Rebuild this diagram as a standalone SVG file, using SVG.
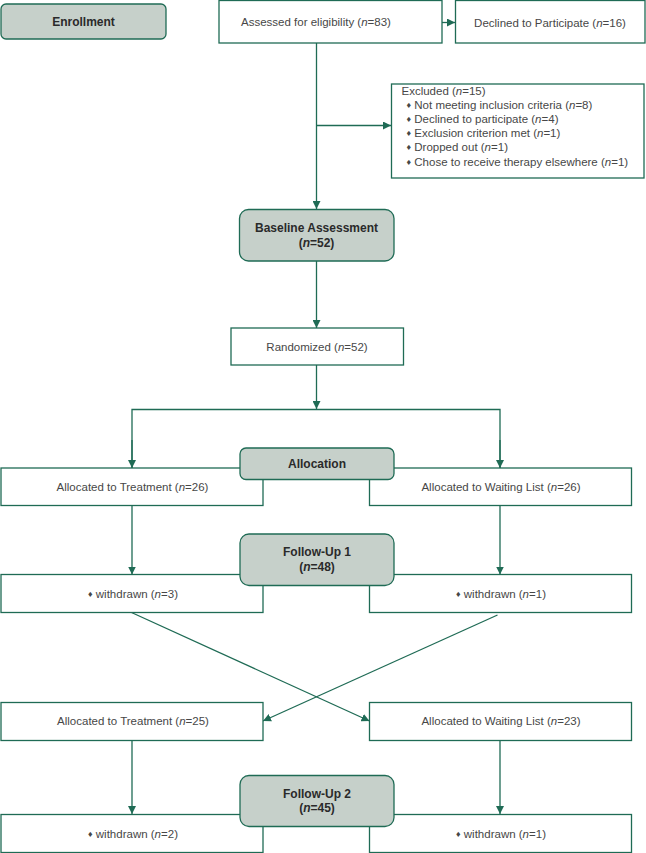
<svg xmlns="http://www.w3.org/2000/svg" width="646" height="853" viewBox="0 0 646 853">
<style>
.box{fill:#ffffff;stroke:#1f6b55;stroke-width:1.3}
.stage{fill:#c6d0ca;stroke:#1f6b55;stroke-width:1.3}
.t{font-family:"Liberation Sans",Arial,sans-serif;font-size:11.5px;fill:#474747;text-anchor:middle;dominant-baseline:central}
.tl{font-family:"Liberation Sans",Arial,sans-serif;font-size:11.5px;fill:#474747;dominant-baseline:central}
.b{font-family:"Liberation Sans",Arial,sans-serif;font-size:12px;font-weight:bold;fill:#2a2a2a;text-anchor:middle;dominant-baseline:central}
.i{font-style:italic}
.bul{font-size:9px}
.ln{fill:none;stroke:#1f6b55;stroke-width:1.3}
</style>
<defs>
<marker id="ah" viewBox="0 0 10 10" refX="10" refY="5" markerWidth="8" markerHeight="8" markerUnits="userSpaceOnUse" orient="auto">
<path d="M0,0 L10,5 L0,10 z" fill="#1f6b55"/>
</marker>
</defs>
<rect width="646" height="853" fill="#ffffff"/>
<g id="connectors">
<line class="ln" x1="442" y1="22.5" x2="455" y2="22.5" marker-end="url(#ah)"/>
<line class="ln" x1="316.5" y1="43" x2="316.5" y2="209" marker-end="url(#ah)"/>
<line class="ln" x1="316.5" y1="125.5" x2="391" y2="125.5" marker-end="url(#ah)"/>
<line class="ln" x1="316.5" y1="261" x2="316.5" y2="328" marker-end="url(#ah)"/>
<line class="ln" x1="316.5" y1="365" x2="316.5" y2="409" marker-end="url(#ah)"/>
<polyline class="ln" points="132,468 132,409.5 500,409.5 500,468"/>
<line class="ln" x1="132" y1="440" x2="132" y2="468" marker-end="url(#ah)"/>
<line class="ln" x1="500" y1="440" x2="500" y2="468" marker-end="url(#ah)"/>
<line class="ln" x1="132" y1="505.5" x2="132" y2="574.5" marker-end="url(#ah)"/>
<line class="ln" x1="500" y1="505.5" x2="500" y2="574.5" marker-end="url(#ah)"/>
<line class="ln" x1="131.5" y1="612.5" x2="369.5" y2="721" marker-end="url(#ah)"/>
<line class="ln" x1="497.5" y1="615" x2="263" y2="721" marker-end="url(#ah)"/>
<line class="ln" x1="132" y1="740.5" x2="132" y2="814" marker-end="url(#ah)"/>
<line class="ln" x1="500" y1="740.5" x2="500" y2="814" marker-end="url(#ah)"/>
</g>
<g id="enrollment">
<rect class="stage" x="1" y="4" width="165" height="35" rx="5"/>
<text class="b" x="83.5" y="21.5">Enrollment</text>
</g>
<g id="assessed">
<rect class="box" x="219" y="0.5" width="223" height="42.5"/>
<text class="t" x="316" y="22">Assessed for eligibility (<tspan class="i">n</tspan>=83)</text>
</g>
<g id="declined">
<rect class="box" x="455.5" y="0.5" width="189.5" height="42.5"/>
<text class="t" x="550" y="22.5">Declined to Participate (<tspan class="i">n</tspan>=16)</text>
</g>
<g id="excluded">
<rect class="box" x="391.5" y="84" width="252.5" height="94"/>
<text class="tl" x="401.5" y="89.5" dy="1">Excluded (<tspan class="i">n</tspan>=15)</text>
<text class="tl" x="406.5" y="104" dy="1"><tspan class="bul">♦</tspan> Not meeting inclusion criteria (<tspan class="i">n</tspan>=8)</text>
<text class="tl" x="406.5" y="118" dy="1"><tspan class="bul">♦</tspan> Declined to participate (<tspan class="i">n</tspan>=4)</text>
<text class="tl" x="406.5" y="132" dy="1"><tspan class="bul">♦</tspan> Exclusion criterion met (<tspan class="i">n</tspan>=1)</text>
<text class="tl" x="406.5" y="146" dy="1"><tspan class="bul">♦</tspan> Dropped out (<tspan class="i">n</tspan>=1)</text>
<text class="tl" x="406.5" y="160.5" dy="1"><tspan class="bul">♦</tspan> Chose to receive therapy elsewhere (<tspan class="i">n</tspan>=1)</text>
</g>
<g id="baseline">
<rect class="stage" x="239.5" y="209.5" width="154.5" height="51.5" rx="9"/>
<text class="b" x="316.5" y="228">Baseline Assessment</text>
<text class="b" x="316.5" y="242.5">(<tspan class="i">n</tspan>=52)</text>
</g>
<g id="randomized">
<rect class="box" x="231" y="328" width="172.5" height="37"/>
<text class="t" x="317" y="346.5">Randomized (<tspan class="i">n</tspan>=52)</text>
</g>
<g id="alloc-treatment-1">
<rect class="box" x="1" y="468" width="262" height="37.5"/>
<text class="t" x="132.5" y="487">Allocated to Treatment (<tspan class="i">n</tspan>=26)</text>
</g>
<g id="alloc-waiting-1">
<rect class="box" x="369.5" y="468" width="262" height="37.5"/>
<text class="t" x="501" y="487">Allocated to Waiting List (<tspan class="i">n</tspan>=26)</text>
</g>
<g id="allocation">
<rect class="stage" x="240" y="448" width="154" height="31.5" rx="6"/>
<text class="b" x="317" y="463.5">Allocation</text>
</g>
<g id="withdrawn-1-left">
<rect class="box" x="1" y="574.5" width="262" height="38"/>
<text class="t" x="133" y="593.5"><tspan class="bul">♦</tspan> withdrawn (<tspan class="i">n</tspan>=3)</text>
</g>
<g id="withdrawn-1-right">
<rect class="box" x="369.5" y="574.5" width="262" height="38"/>
<text class="t" x="501" y="593.5"><tspan class="bul">♦</tspan> withdrawn (<tspan class="i">n</tspan>=1)</text>
</g>
<g id="followup-1">
<rect class="stage" x="240" y="534" width="154" height="51.5" rx="9"/>
<text class="b" x="317" y="552">Follow-Up 1</text>
<text class="b" x="317" y="567">(<tspan class="i">n</tspan>=48)</text>
</g>
<g id="alloc-treatment-2">
<rect class="box" x="1" y="702.5" width="262" height="38"/>
<text class="t" x="133" y="721">Allocated to Treatment  (<tspan class="i">n</tspan>=25)</text>
</g>
<g id="alloc-waiting-2">
<rect class="box" x="369.5" y="702.5" width="262" height="38"/>
<text class="t" x="501" y="721">Allocated to Waiting List (<tspan class="i">n</tspan>=23)</text>
</g>
<g id="withdrawn-2-left">
<rect class="box" x="1" y="814.5" width="262" height="38"/>
<text class="t" x="133" y="833.5"><tspan class="bul">♦</tspan> withdrawn (<tspan class="i">n</tspan>=2)</text>
</g>
<g id="withdrawn-2-right">
<rect class="box" x="369.5" y="814.5" width="262" height="38"/>
<text class="t" x="501" y="833.5"><tspan class="bul">♦</tspan> withdrawn (<tspan class="i">n</tspan>=1)</text>
</g>
<g id="followup-2">
<rect class="stage" x="240" y="775.5" width="154" height="51" rx="9"/>
<text class="b" x="317" y="793.5">Follow-Up 2</text>
<text class="b" x="317" y="807.5">(<tspan class="i">n</tspan>=45)</text>
</g>
</svg>
